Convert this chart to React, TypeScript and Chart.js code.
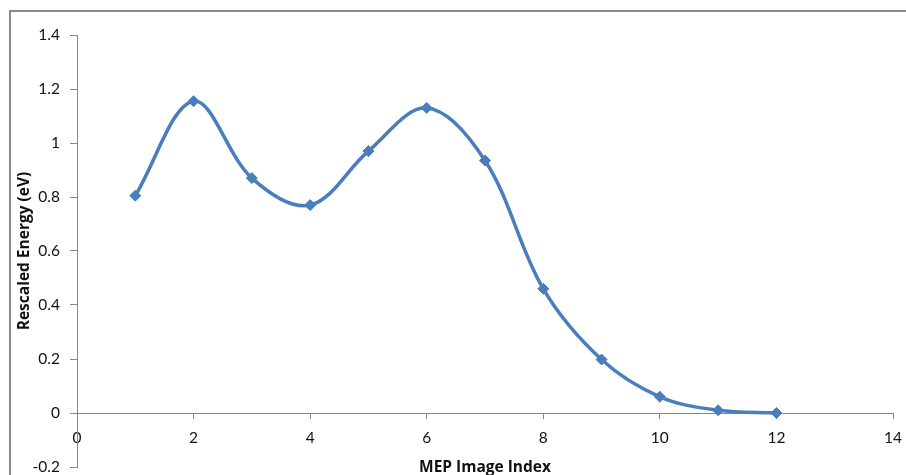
import { useEffect, useRef } from "react";
import { Chart, registerables } from "chart.js";

Chart.register(...registerables);

const imageIndex = [1, 2, 3, 4, 5, 6, 7, 8, 9, 10, 11, 12];
const energy = [0.805, 1.155, 0.87, 0.77, 0.97, 1.13, 0.935, 0.46, 0.198, 0.06, 0.01, 0.0];
const xTicks = [0, 2, 4, 6, 8, 10, 12, 14];
const yTicks = [-0.2, 0, 0.2, 0.4, 0.6, 0.8, 1, 1.2, 1.4];
const xTitle = "MEP Image Index";
const yTitle = "Rescaled Energy (eV)";

const LINE = "#4A7EBB";
const AXIS = "#868686";
const TEXT = "#111111";
const FONT = "Lato, 'Open Sans', sans-serif";
const TITLE_FONT = "'Open Sans', Lato, sans-serif";

const framePlugin = {
  id: "frame",
  beforeDraw(chart: any) {
    const ctx = chart.ctx;
    ctx.save();
    ctx.fillStyle = "#ffffff";
    ctx.fillRect(0, 0, chart.width, chart.height);
    ctx.strokeStyle = "#8a8a8a";
    ctx.lineWidth = 2;
    ctx.beginPath();
    ctx.moveTo(10, chart.height + 5);
    ctx.lineTo(10, 11);
    ctx.lineTo(chart.width + 5, 11);
    ctx.stroke();
    ctx.restore();
  },
};

const zeroPadding = (s: any) => {
  s.paddingTop = 0;
  s.paddingBottom = 0;
  s.paddingLeft = 0;
  s.paddingRight = 0;
};

export default function App() {
  const ref = useRef<HTMLCanvasElement | null>(null);

  useEffect(() => {
    if (!ref.current) return;
    const chart = new Chart(ref.current, {
      type: "line",
      data: {
        datasets: [
          {
            data: imageIndex.map((x, i) => ({ x, y: energy[i] })),
            borderColor: LINE,
            backgroundColor: LINE,
            borderWidth: 3.5,
            tension: 0.35,
            pointStyle: "rectRot",
            pointRadius: 5.5,
            pointBorderWidth: 1,
            pointBackgroundColor: LINE,
            pointBorderColor: LINE,
            fill: false,
          },
        ],
      },
      options: {
        responsive: false,
        animation: false,
        events: [],
        layout: { padding: { top: 35, right: 13, bottom: 8, left: 0 } },
        plugins: {
          legend: { display: false },
          tooltip: { enabled: false },
          title: { display: false },
        },
        scales: {
          x: {
            type: "linear",
            position: { y: 0 } as any,
            min: 0,
            max: 14,
            afterBuildTicks: (s: any) => {
              s.ticks = xTicks.map((v) => ({ value: v }));
            },
            afterFit: (s: any) => {
              s.height = 64;
              zeroPadding(s);
            },
            grid: {
              display: true,
              drawOnChartArea: false,
              drawTicks: true,
              tickLength: 5,
              color: AXIS,
              lineWidth: 1,
            },
            border: { display: true, color: AXIS, width: 1 },
            ticks: {
              color: TEXT,
              font: { family: FONT, size: 15.5 },
              padding: 11,
              maxRotation: 0,
              autoSkip: false,
              callback: (v: any) => String(v),
            },
            title: {
              display: true,
              text: xTitle,
              color: TEXT,
              font: { family: TITLE_FONT, size: 15.5, weight: "bold" },
              padding: { top: 0, bottom: 0 },
            },
          },
          y: {
            type: "linear",
            position: "left",
            min: -0.2,
            max: 1.4,
            afterBuildTicks: (s: any) => {
              s.ticks = yTicks.map((v) => ({ value: v }));
            },
            afterFit: (s: any) => {
              s.width = 77;
              zeroPadding(s);
            },
            grid: {
              display: true,
              drawOnChartArea: false,
              drawTicks: true,
              tickLength: 7,
              color: AXIS,
              lineWidth: 1,
            },
            border: { display: true, color: AXIS, width: 1 },
            ticks: {
              color: TEXT,
              font: { family: FONT, size: 15.5 },
              padding: 10,
              autoSkip: false,
              callback: (v: any) => String(Number(Number(v).toFixed(1))),
            },
            title: {
              display: true,
              text: yTitle,
              color: TEXT,
              font: { family: TITLE_FONT, size: 15.5, weight: "bold" },
              padding: { top: 15, bottom: 0 },
            },
          },
        },
      },
      plugins: [framePlugin],
    });
    return () => chart.destroy();
  }, []);

  return (
    <div style={{ position: "absolute", left: 0, top: 0, width: 906, height: 475 }}>
      <canvas ref={ref} width={906} height={475} style={{ display: "block" }} />
    </div>
  );
}
